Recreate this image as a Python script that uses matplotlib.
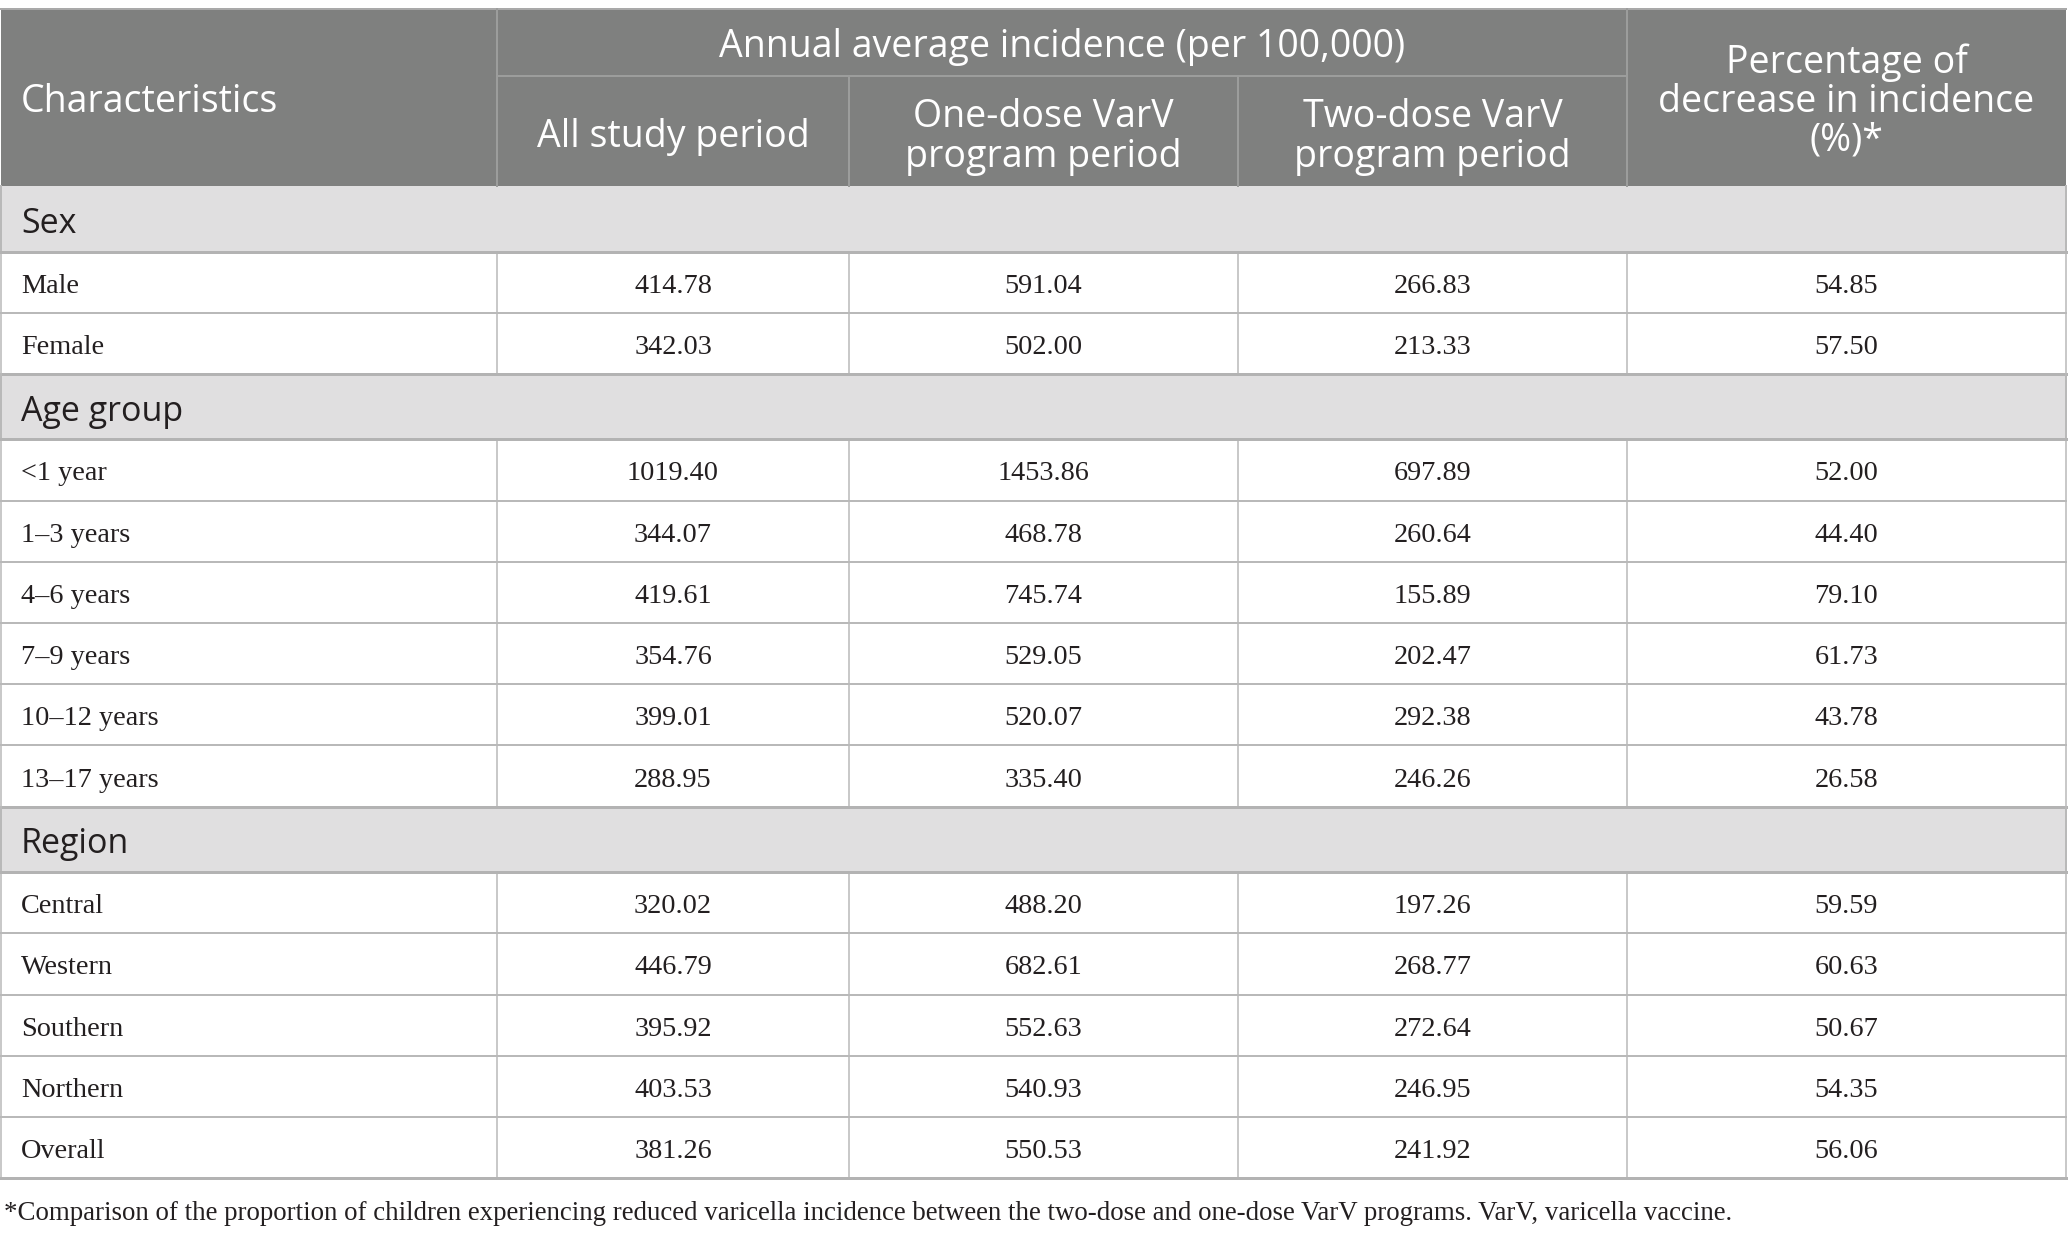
import matplotlib
matplotlib.use("Agg")
import matplotlib.pyplot as plt
from matplotlib.patches import Rectangle

# table content
col_headers = ["All study period", "One-dose VarV\nprogram period", "Two-dose VarV\nprogram period"]
group_header = "Annual average incidence (per 100,000)"
pct_header = "Percentage of\ndecrease in incidence\n(%)*"
sections = ["Sex", "Age group", "Region"]
sex_labels = ["Male", "Female"]
age_labels = ["<1 year", "1\u20133 years", "4\u20136 years", "7\u20139 years", "10\u201312 years", "13\u201317 years"]
region_labels = ["Central", "Western", "Southern", "Northern", "Overall"]
all_period = [414.78, 342.03, 1019.40, 344.07, 419.61, 354.76, 399.01, 288.95,
              320.02, 446.79, 395.92, 403.53, 381.26]
one_dose = [591.04, 502.00, 1453.86, 468.78, 745.74, 529.05, 520.07, 335.40,
            488.20, 682.61, 552.63, 540.93, 550.53]
two_dose = [266.83, 213.33, 697.89, 260.64, 155.89, 202.47, 292.38, 246.26,
            197.26, 268.77, 272.64, 246.95, 241.92]
pct_decrease = [54.85, 57.50, 52.00, 44.40, 79.10, 61.73, 43.78, 26.58,
                59.59, 60.63, 50.67, 54.35, 56.06]
footnote = ("*Comparison of the proportion of children experiencing reduced varicella incidence "
            "between the two-dose and one-dose VarV programs. VarV, varicella vaccine.")

W, H = 2068, 1239
HEAD_BG = "#7f807f"
SEC_BG = "#e0dfe0"
HEAD_LINE = "#9c9d9c"
ROW_LINE = "#b9b9b9"
VLINE = "#c9c9c9"
TXT = "#231f20"
SANS = "Open Sans"
SERIF = "Liberation Serif"

col_x = [1, 497, 849, 1238, 1627, 2066]
top, sub_y, head_bot = 9, 76, 186
sec_h, row_h = 65.5, 61.2

fig = plt.figure(figsize=(W / 100, H / 100), dpi=100)
ax = fig.add_axes([0, 0, 1, 1])
ax.set_xlim(0, W)
ax.set_ylim(H, 0)
ax.axis("off")

def px(n):
    return n * 0.72

# header block
ax.add_patch(Rectangle((col_x[0], top), col_x[-1] - col_x[0], head_bot - top,
                       facecolor=HEAD_BG, edgecolor="none", zorder=1))
ax.plot([col_x[0], col_x[-1]], [top, top], color="#a9a9a9", lw=px(2), zorder=3)
ax.plot([col_x[1], col_x[4]], [sub_y, sub_y], color=HEAD_LINE, lw=px(2), zorder=3)
for x in (col_x[1], col_x[4]):
    ax.plot([x, x], [top, head_bot], color=HEAD_LINE, lw=px(2), zorder=3)
for x in (col_x[2], col_x[3]):
    ax.plot([x, x], [sub_y, head_bot], color=HEAD_LINE, lw=px(2), zorder=3)

hs = 27
ax.text(21, (top + head_bot) / 2 + 5, "Characteristics", color="white", fontsize=hs,
        family=SANS, ha="left", va="center")
ax.text((col_x[1] + col_x[4]) / 2, (top + sub_y) / 2 + 4, group_header, color="white",
        fontsize=hs, family=SANS, ha="center", va="center")
for i, lab in enumerate(col_headers):
    ax.text((col_x[i + 1] + col_x[i + 2]) / 2, (sub_y + head_bot) / 2 + 6, lab, color="white",
            fontsize=hs, family=SANS, ha="center", va="center", linespacing=1.1)
ax.text((col_x[4] + col_x[5]) / 2, (top + head_bot) / 2 + 4, pct_header, color="white",
        fontsize=hs, family=SANS, ha="center", va="center", linespacing=1.04)

# body rows
groups = [sex_labels, age_labels, region_labels]
y = head_bot
k = 0
for sec, labels in zip(sections, groups):
    ax.add_patch(Rectangle((col_x[0], y), col_x[-1] - col_x[0], sec_h,
                           facecolor=SEC_BG, edgecolor="none", zorder=1))
    ax.text(21, y + sec_h / 2 + 5, sec, fontsize=24.5, family=SANS, color=TXT,
            ha="left", va="center")
    ax.plot([col_x[0], col_x[0]], [y, y + sec_h], color=ROW_LINE, lw=px(2), zorder=3)
    ax.plot([col_x[-1], col_x[-1]], [y, y + sec_h], color=ROW_LINE, lw=px(2), zorder=3)
    y += sec_h
    ax.plot([col_x[0], col_x[-1]], [y, y], color="#b3b3b3", lw=px(3), zorder=3)
    for lab in labels:
        yc = y + row_h / 2 + 4
        ax.text(21, yc, lab, fontsize=20.3, family=SERIF, color=TXT,
                ha="left", va="center")
        vals = [all_period[k], one_dose[k], two_dose[k], pct_decrease[k]]
        for j, v in enumerate(vals):
            ax.text((col_x[j + 1] + col_x[j + 2]) / 2, yc, f"{v:.2f}", fontsize=20.3,
                    family=SERIF, color=TXT, ha="center", va="center")
        for x in col_x:
            ax.plot([x, x], [y, y + row_h], color=VLINE, lw=px(2), zorder=2)
        y += row_h
        ax.plot([col_x[0], col_x[-1]], [y, y], color=ROW_LINE, lw=px(2), zorder=3)
        k += 1
    ax.plot([col_x[0], col_x[-1]], [y, y], color="#b3b3b3", lw=px(3), zorder=3)

ax.text(4, y + 35, footnote, fontsize=19.4, family=SERIF, color=TXT,
        ha="left", va="center")

fig.savefig("out.png", dpi=100)
